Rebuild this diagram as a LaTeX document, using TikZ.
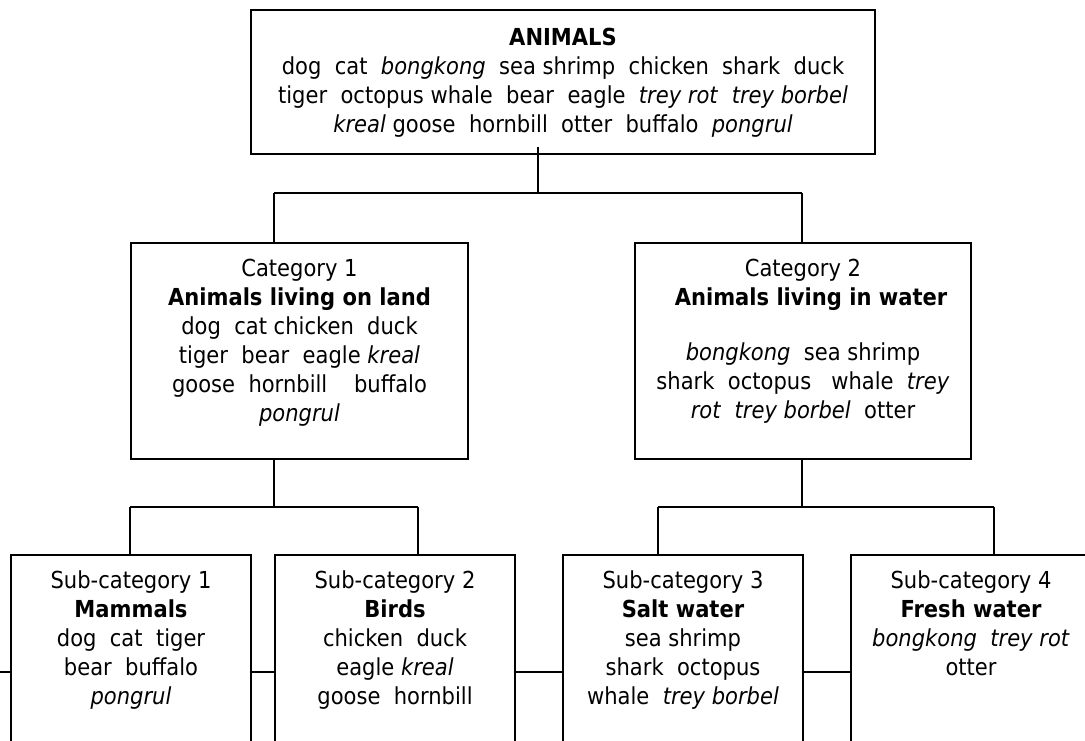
\documentclass[tikz,border=0pt]{standalone}
\usepackage{fontspec}
\setmainfont{DejaVu Sans}[FakeStretch=0.9]
\begin{document}
\begin{tikzpicture}[x=1pt,y=-1pt,
  box/.style={draw, line width=2pt, rectangle, inner sep=0pt, anchor=north west},
  txt/.style={anchor=north, inner sep=0pt, align=center, font=\fontsize{23.4}{29}\selectfont},
  conn/.style={line width=2pt}]
\useasboundingbox (0,0) rectangle (1085,740);
\clip (0,0) rectangle (1085,740);
% boxes
\node[box, minimum width=624pt, minimum height=144pt] (top) at (250,9) {};
\node[box, minimum width=337pt, minimum height=216pt] (c1) at (130,242) {};
\node[box, minimum width=336pt, minimum height=216pt] (c2) at (634,242) {};
\node[box, minimum width=240pt, minimum height=230pt] (s1) at (10,554) {};
\node[box, minimum width=240pt, minimum height=230pt] (s2) at (274,554) {};
\node[box, minimum width=240pt, minimum height=230pt] (s3) at (562,554) {};
\node[box, minimum width=240pt, minimum height=230pt] (s4) at (850,554) {};
% texts
\node[txt] (topt) at (top.north) {\rule{0pt}{36pt}\textbf{ANIMALS}\\
  dog\ \ cat\ \ \textit{bongkong}\ \ sea shrimp\ \ chicken\ \ shark\ \ duck\\
  tiger\ \ octopus whale\ \ bear\ \ eagle\ \ \textit{trey rot}\ \ \textit{trey borbel}\\
  \textit{kreal} goose\ \ hornbill\ \ otter\ \ buffalo\ \ \textit{pongrul}};
\node[txt] (c1t) at (c1.north) {\rule{0pt}{34pt}Category 1\\
  \textbf{Animals living on land}\\
  dog\ \ cat chicken\ \ duck\\
  tiger\ \ bear\ \ eagle \textit{kreal}\\
  goose\ \ hornbill\ \ \ \ buffalo\\
  \textit{pongrul}};
\node[txt] (c2t) at (c2.north) {\rule{0pt}{34pt}Category 2\\
  \hspace*{16pt}\textbf{Animals living in water}\\[26pt]
  \textit{bongkong}\ \ sea shrimp\\
  shark\ \ octopus\ \ \ whale\ \ \textit{trey}\\
  \textit{rot}\ \ \textit{trey borbel}\ \ otter};
\node[txt] (s1t) at (s1.north) {\rule{0pt}{34pt}Sub-category 1\\
  \textbf{Mammals}\\
  dog\ \ cat\ \ tiger\\
  bear\ \ buffalo\\
  \textit{pongrul}};
\node[txt] (s2t) at (s2.north) {\rule{0pt}{34pt}Sub-category 2\\
  \textbf{Birds}\\
  chicken\ \ duck\\
  eagle \textit{kreal}\\
  goose\ \ hornbill};
\node[txt] (s3t) at (s3.north) {\rule{0pt}{34pt}Sub-category 3\\
  \textbf{Salt water}\\
  sea shrimp\\
  shark\ \ octopus\\
  whale\ \ \textit{trey borbel}};
\node[txt] (s4t) at (s4.north) {\rule{0pt}{34pt}Sub-category 4\\
  \textbf{Fresh water}\\
  \textit{bongkong}\ \ \textit{trey rot}\\
  otter};
% junction coordinates
\coordinate (t0) at (538,193);
\coordinate (t1) at (274,193);
\coordinate (t2) at (802,193);
\coordinate (u0) at (274,507);
\coordinate (u1) at (130,507);
\coordinate (u2) at (418,507);
\coordinate (v0) at (802,507);
\coordinate (v1) at (658,507);
\coordinate (v2) at (994,507);
\coordinate (e0) at (0,672);
% connectors
\draw[conn] ([yshift=8pt]top.south -| t0) -- (t0);
\draw[conn] (t1) -- (t2);
\draw[conn] (t1) -- (c1.north -| t1);
\draw[conn] (t2) -- (c2.north -| t2);
\draw[conn] (c1.south -| u0) -- (u0);
\draw[conn] (u1) -- (u2);
\draw[conn] (u1) -- (s1.north -| u1);
\draw[conn] (u2) -- (s2.north -| u2);
\draw[conn] (c2.south -| v0) -- (v0);
\draw[conn] (v1) -- (v2);
\draw[conn] (v1) -- (s3.north -| v1);
\draw[conn] (v2) -- (s4.north -| v2);
\draw[conn] (e0) -- (s1.west |- e0);
\draw[conn] (s1.east |- e0) -- (s2.west |- e0);
\draw[conn] (s2.east |- e0) -- (s3.west |- e0);
\draw[conn] (s3.east |- e0) -- (s4.west |- e0);
\end{tikzpicture}
\end{document}
